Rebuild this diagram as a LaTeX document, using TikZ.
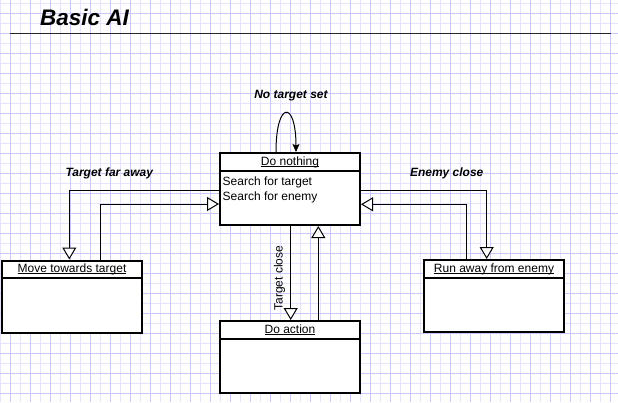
\documentclass[tikz,border=0pt]{standalone}
\usepackage{fontspec}
\setmainfont{Liberation Sans}
\usetikzlibrary{arrows.meta}
\definecolor{gridlight}{RGB}{228,228,255}
\definecolor{gridstrong}{RGB}{200,200,255}
\newcommand\myul[1]{\setbox0\hbox{#1}\rlap{\rule[-1.5pt]{\wd0}{0.8pt}}\box0}
\begin{document}
\begin{tikzpicture}[x=1pt,y=-1pt,
 statebox/.style={draw, line width=2pt, fill=white, minimum width=140pt, minimum height=72pt, inner sep=0pt},
 head/.style={anchor=base, inner sep=0pt, font=\fontsize{12}{14}\selectfont},
 body/.style={anchor=base west, inner sep=0pt, font=\fontsize{12}{14}\selectfont},
 lbl/.style={anchor=base, inner sep=0pt, font=\fontsize{12}{14}\selectfont\bfseries\itshape},
 conn/.style={line width=1pt, -{Triangle[length=12pt,width=14pt,fill=white]}},
 sep/.style={line width=2pt},
]
\useasboundingbox (0,0) rectangle (618,402);
\fill[white] (0,0) rectangle (618,402);
% grid
\foreach \x in {0,20,...,600} \draw[gridlight,line width=1pt] (\x,0) -- (\x,402);
\foreach \y in {3,23,...,383} \draw[gridlight,line width=1pt] (0,\y) -- (618,\y);
\foreach \x in {10,30,...,610} \draw[gridstrong,line width=1pt] (\x,0) -- (\x,402);
\foreach \y in {13,33,...,393} \draw[gridstrong,line width=1pt] (0,\y) -- (618,\y);
% title
\node[anchor=base west, inner sep=0pt, font=\fontsize{22.5}{26}\selectfont\bfseries\itshape] (title) at (40,25) {Basic AI};
\draw[line width=1pt, black!85] (10,33) -- (611,33);
% boxes
\node[statebox] (dn) at (290,189) {};
\draw[sep] ([yshift=-18.5pt]dn.north west) -- ([yshift=-18.5pt]dn.north east);
\node[head] (dnh) at ([yshift=-13.5pt]dn.north) {\myul{Do nothing}};
\node[body] (dnb1) at (222.5,185) {Search for target};
\node[body] (dnb2) at (222.5,200) {Search for enemy};

\node[statebox] (mv) at (72,296.5) {};
\draw[sep] ([yshift=-18.5pt]mv.north west) -- ([yshift=-18.5pt]mv.north east);
\node[head] (mvh) at ([yshift=-13pt]mv.north) {\myul{Move towards target}};

\node[statebox] (rn) at (494,296) {};
\draw[sep] ([yshift=-18.5pt]rn.north west) -- ([yshift=-18.5pt]rn.north east);
\node[head] (rnh) at ([yshift=-13pt]rn.north) {\myul{Run away from enemy}};

\node[statebox] (da) at (290,357) {};
\draw[sep] ([yshift=-18.5pt]da.north west) -- ([yshift=-18.5pt]da.north east);
\node[head] (dah) at ([yshift=-13pt]da.north) {\myul{Do action}};

% connectors
\coordinate (c1) at (69.3,190.7);
\coordinate (c2) at (100,204);
\coordinate (c3) at (486.7,190.7);
\coordinate (c4) at (466.7,204.3);
\coordinate (c5) at (290.7,0);
\coordinate (c6) at (318.3,0);
\draw[conn] (dn.west |- c1) -| (c1 |- mv.north);
\draw[conn] (c2 |- mv.north) |- (dn.west |- c2);
\draw[conn] (dn.east |- c3) -| (c3 |- rn.north);
\draw[conn] (c4 |- rn.north) |- (dn.east |- c4);
\draw[conn] (c5 |- dn.south) -- (c5 |- da.north);
\draw[conn] (c6 |- da.north) -- (c6 |- dn.south);
\coordinate (l1) at (276,0);
\coordinate (l2) at (296,0);
\draw[line width=1pt, -{Stealth[length=8pt,width=7pt,inset=1.5pt]}] (l1 |- dn.north) .. controls (276,100) and (296,100) .. (l2 |- dn.north);
% labels
\node[lbl] (lb1) at (291,98) {No target set};
\node[lbl] (lb2) at (109.3,176) {Target far away};
\node[lbl] (lb3) at (446.7,176) {Enemy close};
\node[anchor=base, inner sep=0pt, rotate=90, font=\fontsize{12}{14}\selectfont] (lb4) at (282.5,278.3) {Target close};
\end{tikzpicture}
\end{document}
